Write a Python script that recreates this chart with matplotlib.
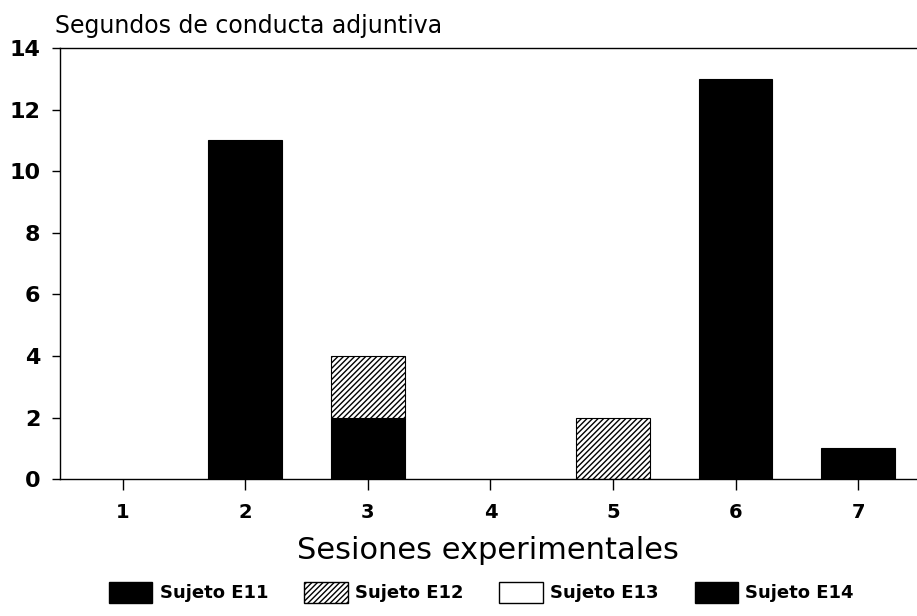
import numpy as np
import matplotlib.pyplot as plt
import matplotlib.patches as mpatches

# Sessions and seconds of adjunctive behaviour per subject
SESSIONS = [1, 2, 3, 4, 5, 6, 7]
E11 = [0, 11, 2, 0, 0, 0, 0]
E12 = [0, 0, 2, 0, 2, 0, 0]
E13 = [0, 0, 0, 0, 0, 0, 0]
E14 = [0, 0, 0, 0, 0, 13, 1]
Y_TICKS = [0, 2, 4, 6, 8, 10, 12, 14]
LABELS = ["Sujeto E11", "Sujeto E12", "Sujeto E13", "Sujeto E14"]

plt.rcParams["font.family"] = ["DejaVu Sans"]
plt.rcParams["hatch.linewidth"] = 1.0

BAR_W = 0.6

fig = plt.figure(figsize=(9.17, 6.16), dpi=100)
ax = fig.add_axes([0.065, 0.222, 0.935, 0.700])

x = np.array(SESSIONS)
e11 = np.array(E11)
e12 = np.array(E12)
e13 = np.array(E13)
e14 = np.array(E14)


def _lw(vals):
    # no outline where the bar is empty
    return np.where(vals > 0, 0.8, 0.0)


ax.bar(x, e11, BAR_W, color="black", edgecolor="black", lw=_lw(e11))
ax.bar(x, e12, BAR_W, bottom=e11, color="white", edgecolor="black",
       hatch="//////", lw=_lw(e12))
ax.bar(x, e13, BAR_W, bottom=e11 + e12, color="white", edgecolor="black",
       lw=_lw(e13))
ax.bar(x, e14, BAR_W, bottom=e11 + e12 + e13, color="black",
       edgecolor="black", lw=_lw(e14))

ax.set_xlim(0.486, 7.48)
ax.set_ylim(0, 14)
ax.set_yticks(Y_TICKS)
ax.set_xticks(SESSIONS)
ax.tick_params(axis="y", direction="out", length=6, width=1, pad=8,
               labelsize=16)
ax.tick_params(axis="x", direction="out", length=8, width=1, pad=9,
               labelsize=14)
for lbl in ax.get_yticklabels() + ax.get_xticklabels():
    lbl.set_fontweight("bold")

ax.spines["right"].set_visible(False)
for s in ["left", "bottom", "top"]:
    ax.spines[s].set_linewidth(1.0)

ax.set_xlabel("Sesiones experimentales", fontsize=22, labelpad=10)
fig.text(0.060, 0.938, "Segundos de conducta adjuntiva", fontsize=17,
         ha="left", va="bottom")

# Legend along the bottom
handles = [
    mpatches.Patch(facecolor="black", edgecolor="black"),
    mpatches.Patch(facecolor="white", edgecolor="black", hatch="//////"),
    mpatches.Patch(facecolor="white", edgecolor="black"),
    mpatches.Patch(facecolor="black", edgecolor="black"),
]
leg = fig.legend(handles, LABELS, loc="lower center", ncol=4,
                 bbox_to_anchor=(0.525, -0.005), frameon=False,
                 handlelength=2.4, handleheight=1.4, columnspacing=2.0,
                 handletextpad=0.4, prop={"size": 13, "weight": "bold"})

fig.savefig("out.png", dpi=100)
